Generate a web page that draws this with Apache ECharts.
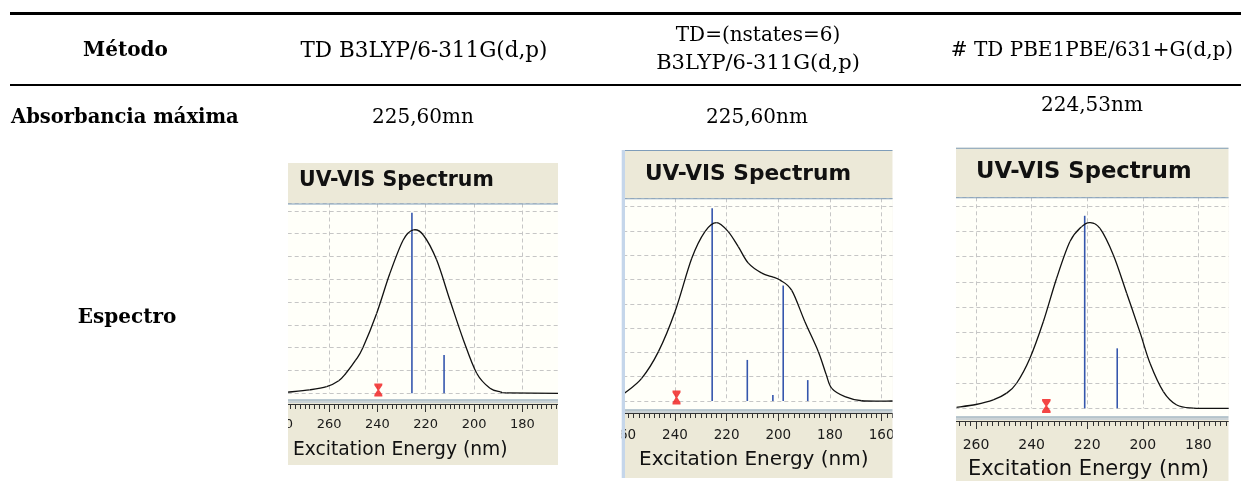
<!DOCTYPE html>
<html>
<head>
<meta charset="utf-8">
<script src="https://cdn.jsdelivr.net/npm/echarts@6/dist/echarts.min.js"></script>
<style>
html,body{margin:0;padding:0;background:#fff;}
#main{width:1241px;height:489px;}
</style>
</head>
<body>
<div id="main"></div>
<script>
// table texts
var rowHeads = ['Método', 'Absorbancia máxima', 'Espectro'];
var methods = ['TD B3LYP/6-311G(d,p)', 'TD=(nstates=6)\nB3LYP/6-311G(d,p)', '# TD PBE1PBE/631+G(d,p)'];
var absMax = ['225,60mn', '225,60nm', '224,53nm'];
var chartTitle = 'UV-VIS Spectrum';
var axisTitle = 'Excitation Energy (nm)';

// spectrum 1 : TD B3LYP/6-311G(d,p)
var wave1 = [277, 268, 261, 256, 253, 249, 246, 240.3, 234.8, 229.3, 225.1, 221, 215.5, 210, 204.4, 198.9, 193.4, 189, 186.5, 165];
var abs1 = [0.05, 0.15, 0.29, 0.55, 0.88, 1.45, 2.0, 3.5, 5.26, 6.72, 7.16, 6.94, 5.85, 4.09, 2.34, 0.88, 0.22, 0.06, 0.02, 0];
var stickNm1 = [225.7, 212.4];
var stickF1 = [7.92, 1.68];
var markNm1 = 239.6;

// spectrum 2 : TD=(nstates=6) B3LYP/6-311G(d,p)
var wave2 = [259.4, 252.9, 246.4, 240, 233.5, 228.4, 223.9, 219.4, 215.5, 211.6, 206.4, 202, 199.4, 194.8, 189.7, 184.5, 181.5, 179.3, 174.2, 167.7, 155.7];
var abs2 = [0.33, 0.93, 2.03, 3.67, 5.87, 6.97, 7.34, 6.97, 6.35, 5.67, 5.26, 5.1, 4.98, 4.55, 3.26, 2.03, 1.1, 0.52, 0.18, 0.01, 0];
var stickNm2 = [225.6, 212, 202.1, 198.1, 188.6];
var stickF2 = [7.93, 1.69, 0.25, 4.75, 0.86];
var markNm2 = 239.4;

// spectrum 3 : TD PBE1PBE/631+G(d,p)
var wave3 = [267, 260, 253.8, 249, 245.4, 240.6, 235.8, 231, 226.2, 222, 219, 215.4, 210.6, 205.8, 201, 197.4, 192.6, 187.8, 181.8, 169];
var abs3 = [0.04, 0.15, 0.33, 0.6, 0.99, 1.98, 3.42, 5.14, 6.59, 7.18, 7.34, 7.11, 6.06, 4.55, 3.0, 1.78, 0.66, 0.13, 0.01, 0];
var stickNm3 = [220.9, 209.2];
var stickF3 = [7.61, 2.37];
var markNm3 = 234.7;

var spectra = [
    {wave: wave1, abs: abs1, sNm: stickNm1, sF: stickF1, mark: markNm1},
    {wave: wave2, abs: abs2, sNm: stickNm2, sF: stickF2, mark: markNm2},
    {wave: wave3, abs: abs3, sNm: stickNm3, sF: stickF3, mark: markNm3}
];

// where each screenshot panel sits on the page
var panels = [
    {x: 288, y: 163, w: 270, h: 302, topLine: false,
     titleX: 299, titleBase: 188, titleSize: 20.5, sep: 203.5, base: 393.3, cream: 399.5, axisY: 404,
     gridLeft: 280.7, gridW: 290, xMin: 160, xMax: 280, unit: 22.8, lab: 13, labMargin: 14,
     nameX: 293, nameY: 450, nameSize: 18.7, markOff: -3.3, markSize: [8, 13]},
    {x: 625, y: 150, w: 267.7, h: 328, topLine: true,
     titleX: 645, titleBase: 181.7, titleSize: 21.7, sep: 198.3, base: 401, cream: 409.5, axisY: 413,
     gridLeft: 623.3, gridW: 310, xMin: 140, xMax: 260, unit: 24.3, lab: 13.5, labMargin: 15,
     nameX: 639, nameY: 460, nameSize: 20, markOff: -3.5, markSize: [8, 14]},
    {x: 956, y: 147.7, w: 272.7, h: 333.3, topLine: true,
     titleX: 976, titleBase: 180, titleSize: 22.7, sep: 197.3, base: 408.3, cream: 416.5, axisY: 421,
     gridLeft: 920.4, gridW: 333.6, xMin: 160, xMax: 280, unit: 25.3, lab: 14, labMargin: 17,
     nameX: 968, nameY: 470, nameSize: 21, markOff: -2.3, markSize: [8.5, 14]}
];

var serif = 'DejaVu Serif';
var sans = 'DejaVu Sans';
var gridCol = '#c6c6c6';

var graphics = [];
function txt(text, x, y, size, opts) {
    opts = opts || {};
    graphics.push({
        type: 'text', x: x, y: y, z: opts.z || 10,
        style: {
            text: text, fill: opts.color || '#000',
            font: (opts.bold ? 'bold ' : '') + size + 'px "' + (opts.family || serif) + '"',
            textAlign: opts.align || 'center', textVerticalAlign: 'middle'
        }
    });
}
function rect(x, y, w, h, color, z) {
    graphics.push({type: 'rect', z: z, shape: {x: x, y: y, width: w, height: h}, style: {fill: color}, silent: true});
}

// table rules
rect(10, 12, 1231, 3, '#000', 10);
rect(10, 84, 1231, 2, '#000', 10);

// table texts
txt(rowHeads[0], 125.5, 51, 20, {bold: true});
txt(rowHeads[1], 11, 118, 19.5, {bold: true, align: 'left'});
txt(rowHeads[2], 127, 318, 20, {bold: true});
var colX = [424, 758, 1092];
methods.forEach(function (m, i) {
    var lines = m.split('\n');
    if (lines.length == 1) {
        txt(lines[0], colX[i], 51, i == 0 ? 21.5 : 20);
    } else {
        txt(lines[0], colX[i], 36, 20);
        txt(lines[1], colX[i], 64, 21);
    }
});
txt(absMax[0], 423, 118, 20);
txt(absMax[1], 757, 118, 20);
txt(absMax[2], 1092, 106, 20);

// panel frames
panels.forEach(function (p) {
    rect(p.x, p.y, p.w, p.h, '#ece9d8', -20);
    rect(p.x, p.sep, p.w, p.cream - p.sep, '#fffff9', -19);
    rect(p.x, p.sep, p.w, 1, '#7f9db9', 20);
    rect(p.x, p.cream, p.w, 1, '#7f9db9', 20);
    rect(p.x, p.cream + 2, p.w, 1, '#a9bdd4', 20);
    if (p.topLine) rect(p.x, p.y, p.w, 1, '#7f9db9', 20);
    txt(chartTitle, p.titleX, p.titleBase - 0.36 * p.titleSize, p.titleSize, {bold: true, family: sans, align: 'left', color: '#111', z: 20});
    txt(axisTitle, p.nameX, p.nameY, p.nameSize, {family: sans, align: 'left', color: '#111', z: 20});
});

// white covers so each spectrum ends at its panel border
rect(240, 140, 48, 349, '#fff', 100);
rect(558, 140, 63.7, 349, '#fff', 100);
rect(892.7, 140, 63.3, 349, '#fff', 100);
rect(1228.7, 140, 13, 349, '#fff', 100);
rect(956, 481, 272.7, 8, '#fff', 100);
rect(621.7, 150, 3.3, 328, '#c5d6ea', 101);

var hourglass = 'path://M0,0 H10 V2 L6,7 L10,12 V14 H0 V12 L4,7 L0,2 Z';

// smooth curve through the projected points (Catmull-Rom as bezier pieces)
function smoothCurve(pts) {
    var kids = [];
    for (var k = 0; k < pts.length - 1; k++) {
        var p0 = pts[Math.max(k - 1, 0)], p1 = pts[k], p2 = pts[k + 1], p3 = pts[Math.min(k + 2, pts.length - 1)];
        kids.push({
            type: 'bezierCurve',
            shape: {
                x1: p1[0], y1: p1[1], x2: p2[0], y2: p2[1],
                cpx1: p1[0] + (p2[0] - p0[0]) / 6, cpy1: p1[1] + (p2[1] - p0[1]) / 6,
                cpx2: p2[0] - (p3[0] - p1[0]) / 6, cpy2: p2[1] - (p3[1] - p1[1]) / 6
            },
            style: {stroke: '#111', lineWidth: 1.3, fill: 'none'}
        });
    }
    return {type: 'group', children: kids};
}

var grids = [], xAxes = [], yAxes = [], series = [];
panels.forEach(function (p, i) {
    var sp = spectra[i];
    grids.push({left: p.gridLeft, width: p.gridW, top: p.sep, height: p.base - p.sep, outerBoundsMode: 'none', containLabel: false});
    xAxes.push({
        gridIndex: i, type: 'value', inverse: true, min: p.xMin, max: p.xMax, interval: 20,
        position: 'bottom', offset: p.axisY - p.base,
        axisLine: {onZero: false, lineStyle: {color: '#333', width: 1}},
        axisTick: {length: 8, lineStyle: {color: '#333'}},
        minorTick: {show: true, splitNumber: 10, length: 5, lineStyle: {color: '#333'}},
        axisLabel: {fontFamily: sans, fontSize: p.lab, color: '#1a1a1a', margin: p.labMargin},
        splitLine: {show: true, lineStyle: {color: gridCol, type: [4, 3]}}
    });
    yAxes.push({
        gridIndex: i, type: 'value', min: 0, max: +((p.base - p.sep) / p.unit).toFixed(2), interval: 1,
        axisLine: {show: false}, axisTick: {show: false}, axisLabel: {show: false},
        splitLine: {show: true, lineStyle: {color: gridCol, type: [4, 3]}}
    });
    series.push({
        type: 'custom', xAxisIndex: i, yAxisIndex: i, z: 4,
        data: [[sp.wave[0], sp.abs[0]]],
        renderItem: function (params, api) {
            var pts = sp.wave.map(function (w, k) { return api.coord([w, sp.abs[k]]); });
            return smoothCurve(pts);
        }
    });
    series.push({
        type: 'custom', xAxisIndex: i, yAxisIndex: i, z: 3,
        data: sp.sNm.map(function (w, k) { return [w, sp.sF[k]]; }),
        renderItem: function (params, api) {
            var top = api.coord([api.value(0), api.value(1)]);
            var bot = api.coord([api.value(0), 0]);
            return {type: 'line', shape: {x1: top[0], y1: top[1], x2: bot[0], y2: bot[1]},
                style: {stroke: '#3556ad', lineWidth: 1.6}};
        }
    });
    series.push({
        type: 'scatter', xAxisIndex: i, yAxisIndex: i, z: 5,
        symbol: hourglass, symbolSize: p.markSize, symbolOffset: [0, p.markOff],
        itemStyle: {color: '#f01818'},
        data: [[sp.mark, 0]]
    });
});

var chart = echarts.init(document.getElementById('main'));
chart.setOption({
    backgroundColor: '#fff',
    animation: false,
    grid: grids,
    xAxis: xAxes,
    yAxis: yAxes,
    series: series,
    graphic: {elements: graphics}
});
</script>
</body>
</html>
